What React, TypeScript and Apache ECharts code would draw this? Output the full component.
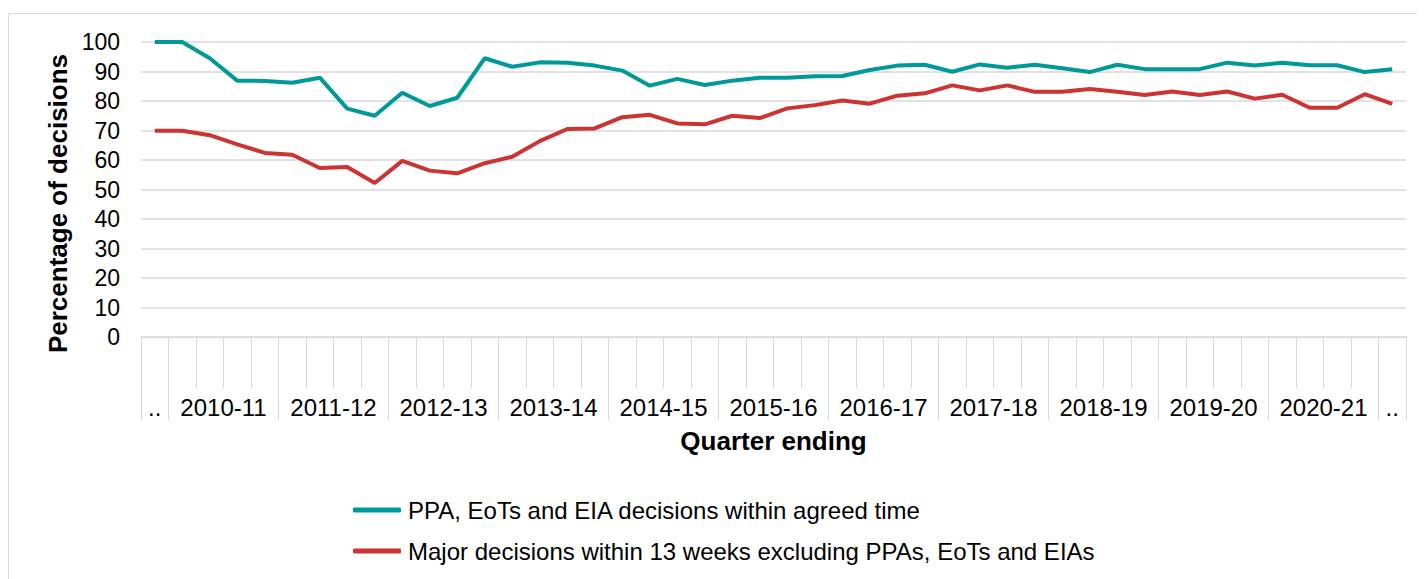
import React, { useEffect, useRef } from "react";
import * as echarts from "echarts";

// Group labels for the multi-level axis, with the number of quarters each spans
const groupLabels = ["..", "2010-11", "2011-12", "2012-13", "2013-14", "2014-15", "2015-16", "2016-17", "2017-18", "2018-19", "2019-20", "2020-21", ".."];
const groupSizes = [1, 4, 4, 4, 4, 4, 4, 4, 4, 4, 4, 4, 1];

// Series values (percentage of decisions), one per quarter
const ppaValues = [
  100, 100, 94.5, 86.9, 86.8, 86.2, 87.9, 77.4, 75.0, 82.8, 78.3, 81.1,
  94.5, 91.6, 93.1, 93.0, 92.0, 90.3, 85.2, 87.5, 85.4, 86.9, 87.9, 87.9,
  88.4, 88.5, 90.5, 92.0, 92.3, 89.9, 92.4, 91.3, 92.3, 91.1, 89.8, 92.3,
  90.8, 90.8, 90.8, 93.0, 92.0, 93.0, 92.1, 92.1, 89.8, 90.8,
];
const majorValues = [
  69.9, 69.9, 68.4, 65.3, 62.4, 61.8, 57.3, 57.6, 52.2, 59.7, 56.4, 55.5,
  58.9, 61.1, 66.4, 70.5, 70.7, 74.5, 75.3, 72.4, 72.1, 75.0, 74.2, 77.5,
  78.6, 80.2, 79.1, 81.8, 82.6, 85.3, 83.6, 85.3, 83.1, 83.1, 84.1, 83.1,
  82.0, 83.2, 82.0, 83.2, 80.8, 82.1, 77.7, 77.7, 82.3, 79.0,
];
const seriesNames = [
  "PPA, EoTs and EIA decisions within agreed time",
  "Major decisions within 13 weeks excluding PPAs, EoTs and EIAs",
];

export default function App() {
  const ref = useRef<HTMLDivElement>(null);

  useEffect(() => {
    if (!ref.current) return;
    const chart = echarts.init(ref.current, undefined, { renderer: "svg" });

    // Quarter categories (one per data point)
    const quarters: string[] = [];
    groupLabels.forEach((g, gi) => {
      for (let q = 0; q < groupSizes[gi]; q++) quarters.push(g + "|" + q);
    });
    const n = quarters.length;

    // Half-quarter slots (2n+1) for group labels and group-boundary ticks
    const slots: string[] = new Array(2 * n + 1).fill("");
    const boundary = new Set<number>();
    let start = 0;
    boundary.add(0);
    groupLabels.forEach((g, gi) => {
      const end = start + groupSizes[gi];
      slots[start + end] = g;
      boundary.add(2 * end);
      start = end;
    });

    const font = "Arial, 'Liberation Sans', sans-serif";
    const gridColor = "#d9d9d9";

    chart.setOption({
      animation: false,
      graphic: [
        {
          type: "rect",
          shape: { x: 0.5, y: 5.5, width: 1430, height: 600 },
          style: { fill: "none", stroke: gridColor, lineWidth: 1 },
          silent: true,
        },
      ],
      grid: { left: 133, right: 11, top: 34, bottom: 242 },
      legend: {
        orient: "vertical",
        left: 340,
        top: 485,
        itemWidth: 48,
        itemHeight: 5,
        itemGap: 17,
        icon: "roundRect",
        textStyle: { fontFamily: font, fontSize: 24, color: "#000", padding: [0, 0, 0, 2] },
        data: seriesNames,
      },
      xAxis: [
        {
          type: "category",
          data: quarters,
          boundaryGap: true,
          axisLine: { show: true, lineStyle: { color: gridColor, width: 1 } },
          axisTick: { show: true, interval: 0, length: 51, lineStyle: { color: gridColor } },
          axisLabel: { show: false },
          splitLine: { show: false },
        },
        {
          type: "category",
          data: slots,
          boundaryGap: false,
          position: "bottom",
          axisLine: { show: false },
          axisTick: {
            show: true,
            interval: (i: number) => boundary.has(i),
            length: 83,
            lineStyle: { color: gridColor },
          },
          axisLabel: {
            show: true,
            interval: (i: number) => slots[i] !== "",
            margin: 58,
            fontFamily: font,
            fontSize: 24,
            color: "#000",
          },
          name: "Quarter ending",
          nameLocation: "middle",
          nameGap: 91,
          nameTextStyle: { fontFamily: font, fontSize: 26, fontWeight: "bold", color: "#000" },
        },
      ],
      yAxis: {
        type: "value",
        min: 0,
        max: 100,
        interval: 10,
        axisLine: { show: false },
        axisTick: { show: false },
        axisLabel: { margin: 21, fontFamily: font, fontSize: 23, color: "#000" },
        splitLine: { show: true, lineStyle: { color: gridColor, width: 1.5 } },
        name: "Percentage of decisions",
        nameLocation: "middle",
        nameGap: 70,
        nameTextStyle: {
          fontFamily: font,
          fontSize: 26,
          fontWeight: "bold",
          color: "#000",
          padding: [0, 28, 0, 0],
        },
      },
      series: [
        {
          name: seriesNames[0],
          type: "line",
          data: ppaValues,
          xAxisIndex: 0,
          symbol: "none",
          lineStyle: { color: "#009999", width: 4 },
          itemStyle: { color: "#009999" },
        },
        {
          name: seriesNames[1],
          type: "line",
          data: majorValues,
          xAxisIndex: 0,
          symbol: "none",
          lineStyle: { color: "#cc3333", width: 4 },
          itemStyle: { color: "#cc3333" },
        },
      ],
    });

    return () => chart.dispose();
  }, []);

  return <div ref={ref} style={{ width: 1409, height: 571 }} />;
}
